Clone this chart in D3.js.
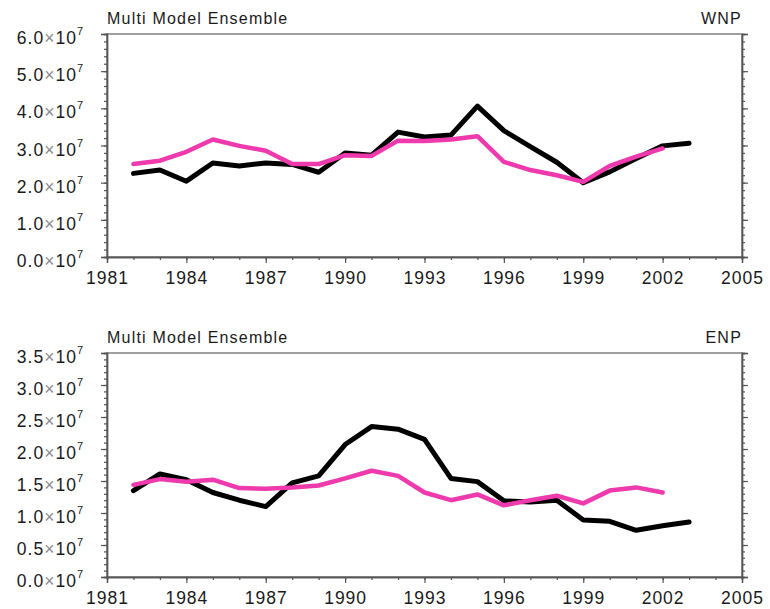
<!DOCTYPE html>
<html>
<head>
<meta charset="utf-8">
<script src="https://cdn.jsdelivr.net/npm/d3@7"></script>
<style>
  html, body { margin: 0; padding: 0; background: #fff; }
  svg { display: block; }
  text { font-family: "Liberation Sans", Arial, sans-serif; }
</style>
</head>
<body>
<svg id="chart" width="770" height="609"></svg>
<script>
// ---- Data (values in units of 10^7) ----
const years = d3.range(1982, 2004);            // 1982..2003
const wnpBlack = [2.25, 2.34, 2.04, 2.53, 2.45, 2.53, 2.49, 2.28, 2.80, 2.74, 3.36,
                  3.23, 3.28, 4.06, 3.40, 2.97, 2.55, 2.00, 2.29, 2.65, 2.99, 3.06];
const wnpPink  = [2.50, 2.59, 2.83, 3.16, 2.99, 2.86, 2.50, 2.50, 2.74, 2.72, 3.13,
                  3.12, 3.16, 3.25, 2.56, 2.34, 2.20, 2.02, 2.45, 2.70, 2.92];
const enpBlack = [1.35, 1.61, 1.52, 1.32, 1.20, 1.10, 1.47, 1.58, 2.07, 2.35, 2.31,
                  2.15, 1.54, 1.49, 1.19, 1.17, 1.20, 0.89, 0.87, 0.73, 0.80, 0.86];
const enpPink  = [1.44, 1.53, 1.49, 1.52, 1.39, 1.38, 1.40, 1.43, 1.54, 1.66, 1.58,
                  1.32, 1.20, 1.29, 1.12, 1.20, 1.27, 1.15, 1.35, 1.40, 1.32];
const xTicks = [1981, 1984, 1987, 1990, 1993, 1996, 1999, 2002, 2005];
const wnpYTicks = [0, 1, 2, 3, 4, 5, 6];
const enpYTicks = [0, 0.5, 1, 1.5, 2, 2.5, 3, 3.5];
const panelTitles = ["Multi Model Ensemble", "Multi Model Ensemble"];
const regionLabels = ["WNP", "ENP"];

const svg = d3.select("#chart");
const xRange = [107, 742];

function panel(cfg) {
  const x = d3.scaleLinear().domain([1981, 2005]).range(xRange);
  const y = d3.scaleLinear().domain([0, cfg.yMax]).range([cfg.bottom, cfg.top]);
  const g = svg.append("g");
  const axisColor = "#555";

  // frame
  g.append("rect").attr("x", xRange[0]).attr("y", cfg.top)
    .attr("width", xRange[1] - xRange[0]).attr("height", cfg.bottom - cfg.top)
    .attr("fill", "none").attr("stroke", "#777").attr("stroke-width", 1.4);

  const yMinor = d3.range(0, cfg.yMax + 1e-9, cfg.yMinorStep);
  const xMinor = d3.range(1981, 2006, 1);

  const leftMinor = d3.axisLeft(y).tickValues(yMinor).tickSize(3).tickFormat("");
  const leftMajor = d3.axisLeft(y).tickValues(cfg.yTicks).tickSize(6).tickFormat("");
  const rightMinor = d3.axisRight(y).tickValues(yMinor).tickSize(3).tickFormat("");
  const rightMajor = d3.axisRight(y).tickValues(cfg.yTicks).tickSize(6).tickFormat("");
  const botMinor = d3.axisBottom(x).tickValues(xMinor).tickSize(3).tickFormat("");
  const botMajor = d3.axisBottom(x).tickValues(xTicks).tickSize(6).tickFormat(d3.format("d"));

  [[leftMinor, xRange[0]], [leftMajor, xRange[0]],
   [rightMinor, xRange[1]], [rightMajor, xRange[1]]].forEach(([ax, tx]) => {
    const a = g.append("g").attr("transform", `translate(${tx},0)`).call(ax);
    a.select(".domain").attr("stroke", axisColor).attr("stroke-width", 1.4);
    a.selectAll(".tick line").attr("stroke", axisColor).attr("stroke-width", 1.2);
  });
  const bm = g.append("g").attr("transform", `translate(0,${cfg.bottom})`).call(botMinor);
  bm.select(".domain").attr("stroke", axisColor).attr("stroke-width", 1.4);
  bm.selectAll(".tick line").attr("stroke", axisColor).attr("stroke-width", 1.2);
  const bM = g.append("g").attr("transform", `translate(0,${cfg.bottom})`).call(botMajor);
  bM.select(".domain").attr("stroke", axisColor).attr("stroke-width", 1.4);
  bM.selectAll(".tick line").attr("stroke", axisColor).attr("stroke-width", 1.2);
  bM.selectAll(".tick text").attr("font-family", "Liberation Sans, Arial, sans-serif")
    .attr("font-size", 17.5).attr("letter-spacing", 1).attr("fill", "#1a1a1a")
    .attr("y", 0).attr("dy", 27);

  // y tick labels: "6.0×10^7"
  const fmt = d3.format(".1f");
  const labels = g.selectAll("text.ylab").data(cfg.yTicks).join("text")
    .attr("class", "ylab")
    .attr("x", 84).attr("y", d => y(d) + 10)
    .attr("text-anchor", "end")
    .attr("font-size", 17.5).attr("letter-spacing", 1).attr("fill", "#1a1a1a");
  labels.append("tspan").text(d => fmt(d));
  labels.append("tspan").attr("fill", "#8a8a8a").text("\u00d7");
  labels.append("tspan").text("10");
  labels.append("tspan").attr("font-size", 11).attr("dy", -9).text("7");

  // lines
  const line = d3.line().x((d, i) => x(years[i])).y(d => y(d)).curve(d3.curveLinear);
  g.append("path").datum(cfg.black).attr("d", line)
    .attr("fill", "none").attr("stroke", "#000").attr("stroke-width", 5)
    .attr("stroke-linejoin", "round").attr("stroke-linecap", "round");
  g.append("path").datum(cfg.pink).attr("d", line)
    .attr("fill", "none").attr("stroke", "#ee3aad").attr("stroke-width", 4.5)
    .attr("stroke-linejoin", "round").attr("stroke-linecap", "round");

  // titles
  g.append("text").attr("x", xRange[0]).attr("y", cfg.top - 10)
    .attr("font-size", 16).attr("letter-spacing", 1.2).attr("fill", "#1a1a1a").text(cfg.title);
  g.append("text").attr("x", xRange[1]).attr("y", cfg.top - 10)
    .attr("text-anchor", "end")
    .attr("font-size", 16).attr("letter-spacing", 1.2).attr("fill", "#1a1a1a").text(cfg.label);
}

panel({ top: 34, bottom: 257, yMax: 6, yTicks: wnpYTicks, yMinorStep: 0.2,
        black: wnpBlack, pink: wnpPink, title: panelTitles[0], label: regionLabels[0] });
panel({ top: 353, bottom: 577, yMax: 3.5, yTicks: enpYTicks, yMinorStep: 0.1,
        black: enpBlack, pink: enpPink, title: panelTitles[1], label: regionLabels[1] });
</script>
</body>
</html>
